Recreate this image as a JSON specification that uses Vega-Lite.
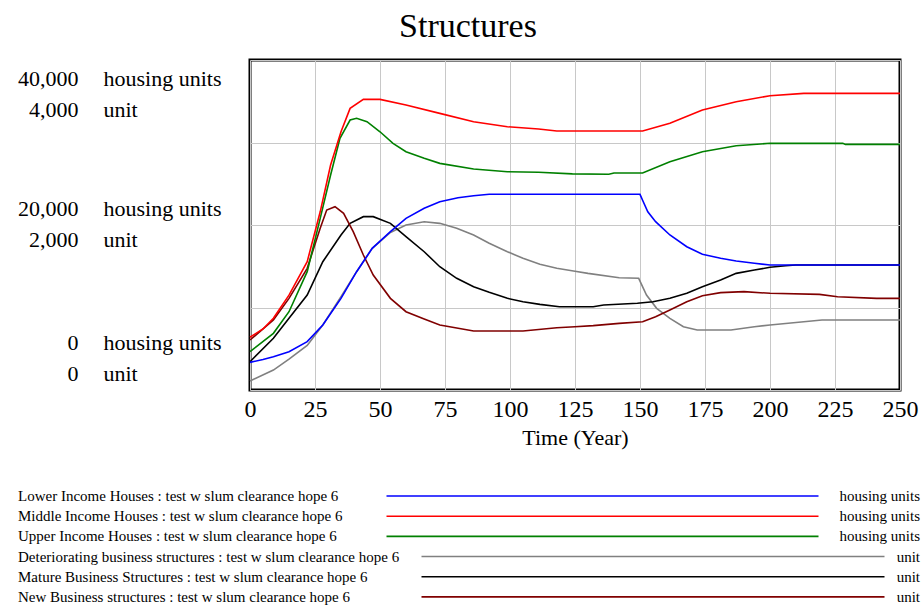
{
  "$schema": "https://vega.github.io/schema/vega-lite/v6.json",
  "width": 650,
  "height": 330,
  "autosize": {"type": "none"},
  "padding": {"left": 250, "top": 60, "right": 23, "bottom": 215},
  "background": "white",
  "title": {"text": "Structures", "font": "Liberation Serif", "fontSize": 34, "fontWeight": "normal", "color": "black", "anchor": "middle", "frame": "group", "dx": -107, "baseline": "alphabetic", "offset": -11},
  "config": {"view": {"stroke": "black", "strokeWidth": 3}, "font": "Liberation Serif"},
  "datasets": {
    "housing": [
      {"series": "Lower Income Houses", "year": 0, "value": 3350},
      {"series": "Lower Income Houses", "year": 5, "value": 3700},
      {"series": "Lower Income Houses", "year": 9, "value": 4040},
      {"series": "Lower Income Houses", "year": 15, "value": 4640},
      {"series": "Lower Income Houses", "year": 22, "value": 5860},
      {"series": "Lower Income Houses", "year": 28, "value": 7880},
      {"series": "Lower Income Houses", "year": 35, "value": 11110},
      {"series": "Lower Income Houses", "year": 41, "value": 14340},
      {"series": "Lower Income Houses", "year": 47, "value": 17170},
      {"series": "Lower Income Houses", "year": 54, "value": 19190},
      {"series": "Lower Income Houses", "year": 60, "value": 20810},
      {"series": "Lower Income Houses", "year": 67, "value": 22020},
      {"series": "Lower Income Houses", "year": 73, "value": 22830},
      {"series": "Lower Income Houses", "year": 80, "value": 23310},
      {"series": "Lower Income Houses", "year": 86, "value": 23550},
      {"series": "Lower Income Houses", "year": 92, "value": 23720},
      {"series": "Lower Income Houses", "year": 150, "value": 23720},
      {"series": "Lower Income Houses", "year": 151, "value": 23000},
      {"series": "Lower Income Houses", "year": 153, "value": 21600},
      {"series": "Lower Income Houses", "year": 156, "value": 20400},
      {"series": "Lower Income Houses", "year": 161.5, "value": 18790},
      {"series": "Lower Income Houses", "year": 168, "value": 17370},
      {"series": "Lower Income Houses", "year": 174, "value": 16450},
      {"series": "Lower Income Houses", "year": 181, "value": 15960},
      {"series": "Lower Income Houses", "year": 187, "value": 15640},
      {"series": "Lower Income Houses", "year": 194, "value": 15360},
      {"series": "Lower Income Houses", "year": 200, "value": 15150},
      {"series": "Lower Income Houses", "year": 250, "value": 15150},
      {"series": "Upper Income Houses", "year": 0, "value": 4640},
      {"series": "Upper Income Houses", "year": 9, "value": 6870},
      {"series": "Upper Income Houses", "year": 15, "value": 9490},
      {"series": "Upper Income Houses", "year": 22, "value": 14340},
      {"series": "Upper Income Houses", "year": 27, "value": 20810},
      {"series": "Upper Income Houses", "year": 31, "value": 26060},
      {"series": "Upper Income Houses", "year": 34.6, "value": 30500},
      {"series": "Upper Income Houses", "year": 38.5, "value": 32720},
      {"series": "Upper Income Houses", "year": 41, "value": 32930},
      {"series": "Upper Income Houses", "year": 45, "value": 32520},
      {"series": "Upper Income Houses", "year": 50, "value": 31300},
      {"series": "Upper Income Houses", "year": 55, "value": 29900},
      {"series": "Upper Income Houses", "year": 60, "value": 28880},
      {"series": "Upper Income Houses", "year": 67, "value": 28080},
      {"series": "Upper Income Houses", "year": 73, "value": 27470},
      {"series": "Upper Income Houses", "year": 86, "value": 26790},
      {"series": "Upper Income Houses", "year": 99, "value": 26460},
      {"series": "Upper Income Houses", "year": 111, "value": 26400},
      {"series": "Upper Income Houses", "year": 124, "value": 26200},
      {"series": "Upper Income Houses", "year": 138, "value": 26150},
      {"series": "Upper Income Houses", "year": 140, "value": 26300},
      {"series": "Upper Income Houses", "year": 151, "value": 26300},
      {"series": "Upper Income Houses", "year": 161.5, "value": 27680},
      {"series": "Upper Income Houses", "year": 174, "value": 28880},
      {"series": "Upper Income Houses", "year": 187, "value": 29610},
      {"series": "Upper Income Houses", "year": 200, "value": 29900},
      {"series": "Upper Income Houses", "year": 228, "value": 29900},
      {"series": "Upper Income Houses", "year": 229, "value": 29770},
      {"series": "Upper Income Houses", "year": 250, "value": 29770},
      {"series": "Middle Income Houses", "year": 0, "value": 6400},
      {"series": "Middle Income Houses", "year": 5, "value": 7400},
      {"series": "Middle Income Houses", "year": 9, "value": 8690},
      {"series": "Middle Income Houses", "year": 15, "value": 11500},
      {"series": "Middle Income Houses", "year": 22, "value": 15550},
      {"series": "Middle Income Houses", "year": 27, "value": 21600},
      {"series": "Middle Income Houses", "year": 31, "value": 27270},
      {"series": "Middle Income Houses", "year": 35, "value": 31300},
      {"series": "Middle Income Houses", "year": 38.5, "value": 34140},
      {"series": "Middle Income Houses", "year": 43.6, "value": 35230},
      {"series": "Middle Income Houses", "year": 50, "value": 35230},
      {"series": "Middle Income Houses", "year": 60, "value": 34540},
      {"series": "Middle Income Houses", "year": 73, "value": 33530},
      {"series": "Middle Income Houses", "year": 86, "value": 32520},
      {"series": "Middle Income Houses", "year": 99, "value": 31910},
      {"series": "Middle Income Houses", "year": 111, "value": 31630},
      {"series": "Middle Income Houses", "year": 118, "value": 31390},
      {"series": "Middle Income Houses", "year": 151, "value": 31390},
      {"series": "Middle Income Houses", "year": 161.5, "value": 32320},
      {"series": "Middle Income Houses", "year": 174, "value": 33940},
      {"series": "Middle Income Houses", "year": 187, "value": 34950},
      {"series": "Middle Income Houses", "year": 200, "value": 35670},
      {"series": "Middle Income Houses", "year": 213, "value": 35960},
      {"series": "Middle Income Houses", "year": 250, "value": 35960}
    ],
    "business": [
      {"series": "Deteriorating business structures", "year": 0, "value": 109},
      {"series": "Deteriorating business structures", "year": 9, "value": 242},
      {"series": "Deteriorating business structures", "year": 15, "value": 375},
      {"series": "Deteriorating business structures", "year": 22, "value": 540},
      {"series": "Deteriorating business structures", "year": 28, "value": 788},
      {"series": "Deteriorating business structures", "year": 35, "value": 1130},
      {"series": "Deteriorating business structures", "year": 41, "value": 1434},
      {"series": "Deteriorating business structures", "year": 47, "value": 1717},
      {"series": "Deteriorating business structures", "year": 54, "value": 1910},
      {"series": "Deteriorating business structures", "year": 60, "value": 2000},
      {"series": "Deteriorating business structures", "year": 67, "value": 2040},
      {"series": "Deteriorating business structures", "year": 73, "value": 2020},
      {"series": "Deteriorating business structures", "year": 79.5, "value": 1960},
      {"series": "Deteriorating business structures", "year": 86, "value": 1879},
      {"series": "Deteriorating business structures", "year": 92, "value": 1778},
      {"series": "Deteriorating business structures", "year": 99, "value": 1676},
      {"series": "Deteriorating business structures", "year": 105, "value": 1596},
      {"series": "Deteriorating business structures", "year": 111.5, "value": 1523},
      {"series": "Deteriorating business structures", "year": 118, "value": 1475},
      {"series": "Deteriorating business structures", "year": 125, "value": 1440},
      {"series": "Deteriorating business structures", "year": 130, "value": 1414},
      {"series": "Deteriorating business structures", "year": 142, "value": 1361},
      {"series": "Deteriorating business structures", "year": 149.5, "value": 1354},
      {"series": "Deteriorating business structures", "year": 152.5, "value": 1151},
      {"series": "Deteriorating business structures", "year": 156.4, "value": 990},
      {"series": "Deteriorating business structures", "year": 161.5, "value": 869},
      {"series": "Deteriorating business structures", "year": 166.7, "value": 767},
      {"series": "Deteriorating business structures", "year": 172, "value": 727},
      {"series": "Deteriorating business structures", "year": 185, "value": 727},
      {"series": "Deteriorating business structures", "year": 194, "value": 767},
      {"series": "Deteriorating business structures", "year": 200, "value": 788},
      {"series": "Deteriorating business structures", "year": 213, "value": 828},
      {"series": "Deteriorating business structures", "year": 220, "value": 848},
      {"series": "Deteriorating business structures", "year": 250, "value": 848},
      {"series": "Mature Business Structures", "year": 0, "value": 343},
      {"series": "Mature Business Structures", "year": 9, "value": 627},
      {"series": "Mature Business Structures", "year": 15, "value": 869},
      {"series": "Mature Business Structures", "year": 22, "value": 1151},
      {"series": "Mature Business Structures", "year": 28, "value": 1555},
      {"series": "Mature Business Structures", "year": 35, "value": 1879},
      {"series": "Mature Business Structures", "year": 38.5, "value": 2020},
      {"series": "Mature Business Structures", "year": 43.6, "value": 2101},
      {"series": "Mature Business Structures", "year": 47.4, "value": 2101},
      {"series": "Mature Business Structures", "year": 54, "value": 2020},
      {"series": "Mature Business Structures", "year": 60, "value": 1858},
      {"series": "Mature Business Structures", "year": 67, "value": 1676},
      {"series": "Mature Business Structures", "year": 73, "value": 1494},
      {"series": "Mature Business Structures", "year": 79.5, "value": 1354},
      {"series": "Mature Business Structures", "year": 86, "value": 1252},
      {"series": "Mature Business Structures", "year": 92, "value": 1184},
      {"series": "Mature Business Structures", "year": 99, "value": 1111},
      {"series": "Mature Business Structures", "year": 105, "value": 1070},
      {"series": "Mature Business Structures", "year": 111.5, "value": 1038},
      {"series": "Mature Business Structures", "year": 119, "value": 1010},
      {"series": "Mature Business Structures", "year": 132, "value": 1010},
      {"series": "Mature Business Structures", "year": 136, "value": 1030},
      {"series": "Mature Business Structures", "year": 149, "value": 1051},
      {"series": "Mature Business Structures", "year": 155, "value": 1070},
      {"series": "Mature Business Structures", "year": 161.5, "value": 1111},
      {"series": "Mature Business Structures", "year": 168, "value": 1172},
      {"series": "Mature Business Structures", "year": 174, "value": 1252},
      {"series": "Mature Business Structures", "year": 181, "value": 1333},
      {"series": "Mature Business Structures", "year": 187, "value": 1414},
      {"series": "Mature Business Structures", "year": 194, "value": 1454},
      {"series": "Mature Business Structures", "year": 200, "value": 1487},
      {"series": "Mature Business Structures", "year": 206, "value": 1507},
      {"series": "Mature Business Structures", "year": 210, "value": 1515},
      {"series": "Mature Business Structures", "year": 250, "value": 1515},
      {"series": "New Business structures", "year": 0, "value": 606},
      {"series": "New Business structures", "year": 9, "value": 848},
      {"series": "New Business structures", "year": 15, "value": 1111},
      {"series": "New Business structures", "year": 22, "value": 1475},
      {"series": "New Business structures", "year": 27, "value": 1960},
      {"series": "New Business structures", "year": 29.5, "value": 2182},
      {"series": "New Business structures", "year": 32.7, "value": 2222},
      {"series": "New Business structures", "year": 36, "value": 2141},
      {"series": "New Business structures", "year": 39.7, "value": 1919},
      {"series": "New Business structures", "year": 43.6, "value": 1636},
      {"series": "New Business structures", "year": 47.4, "value": 1394},
      {"series": "New Business structures", "year": 54, "value": 1111},
      {"series": "New Business structures", "year": 60, "value": 949},
      {"series": "New Business structures", "year": 67, "value": 861},
      {"series": "New Business structures", "year": 73, "value": 788},
      {"series": "New Business structures", "year": 86, "value": 715},
      {"series": "New Business structures", "year": 105, "value": 715},
      {"series": "New Business structures", "year": 118, "value": 755},
      {"series": "New Business structures", "year": 125, "value": 767},
      {"series": "New Business structures", "year": 132, "value": 780},
      {"series": "New Business structures", "year": 142, "value": 808},
      {"series": "New Business structures", "year": 151, "value": 828},
      {"series": "New Business structures", "year": 156, "value": 889},
      {"series": "New Business structures", "year": 161.5, "value": 970},
      {"series": "New Business structures", "year": 168, "value": 1070},
      {"series": "New Business structures", "year": 174, "value": 1143},
      {"series": "New Business structures", "year": 181, "value": 1180},
      {"series": "New Business structures", "year": 190, "value": 1192},
      {"series": "New Business structures", "year": 200, "value": 1172},
      {"series": "New Business structures", "year": 219, "value": 1159},
      {"series": "New Business structures", "year": 226, "value": 1131},
      {"series": "New Business structures", "year": 241, "value": 1111},
      {"series": "New Business structures", "year": 250, "value": 1111}
    ],
    "units": [
      {"series": "Lower Income Houses", "unit": "housing units"},
      {"series": "Middle Income Houses", "unit": "housing units"},
      {"series": "Upper Income Houses", "unit": "housing units"},
      {"series": "Deteriorating business structures", "unit": "unit"},
      {"series": "Mature Business Structures", "unit": "unit"},
      {"series": "New Business structures", "unit": "unit"}
    ]
  },
  "layer": [
    {
      "data": {"name": "business"},
      "mark": {"type": "line", "strokeWidth": 1.6, "interpolate": "linear"},
      "encoding": {
        "x": {"field": "year", "type": "quantitative", "scale": {"domain": [0, 250], "nice": false},
          "axis": {"values": [0, 25, 50, 75, 100, 125, 150, 175, 200, 225, 250], "title": "Time (Year)", "grid": true, "gridColor": "#c8c8c8", "gridWidth": 1, "domain": false, "ticks": false, "tickSize": 0, "labelFont": "Liberation Serif", "labelFontSize": 24, "labelColor": "black", "labelPadding": 7, "labelFlush": false, "labelOverlap": false, "titleFont": "Liberation Serif", "titleFontSize": 22, "titleFontWeight": "normal", "titleColor": "black", "titlePadding": 6}},
        "y": {"field": "value", "type": "quantitative", "scale": {"domain": [0, 4000], "nice": false},
          "axis": {"orient": "left", "values": [0, 2000, 4000], "title": null, "grid": false, "domain": false, "ticks": false, "tickSize": 0, "labelFont": "Liberation Serif", "labelFontSize": 22, "labelColor": "black", "labelAlign": "left", "labelBaseline": "top", "labelPadding": 147, "labelLineHeight": 31, "labelOverlap": false, "labelFlush": false, "labelExpr": "['housing units', 'unit']",
            "labelOffset": {"condition": [{"test": "datum.value == 4000", "value": 8.5}, {"test": "datum.value == 2000", "value": -26.5}], "value": -58}}},
        "stroke": {"field": "series", "type": "nominal",
          "scale": {"domain": ["Deteriorating business structures", "Mature Business Structures", "New Business structures"], "range": ["#808080", "#000000", "#800000"]},
          "legend": {"orient": "none", "legendX": -232, "legendY": 489, "title": null, "padding": 0, "direction": "vertical", "rowPadding": 4.2, "labelFont": "Liberation Serif", "labelFontSize": 15, "labelColor": "black", "labelLimit": 0, "labelOffset": -411, "symbolType": "M 0 0 H 92.6", "symbolSize": 100, "symbolOffset": 396, "symbolStrokeWidth": 1.6,
            "labelExpr": "datum.label + ' : test w slum clearance hope 6'"}}
      }
    },
    {
      "data": {"name": "housing"},
      "mark": {"type": "line", "strokeWidth": 1.6, "interpolate": "linear"},
      "encoding": {
        "x": {"field": "year", "type": "quantitative", "scale": {"domain": [0, 250], "nice": false},
          "axis": {"values": [0, 25, 50, 75, 100, 125, 150, 175, 200, 225, 250], "title": "Time (Year)", "grid": true, "gridColor": "#c8c8c8", "gridWidth": 1, "domain": false, "ticks": false, "tickSize": 0, "labelFont": "Liberation Serif", "labelFontSize": 24, "labelColor": "black", "labelPadding": 7, "labelFlush": false, "labelOverlap": false, "titleFont": "Liberation Serif", "titleFontSize": 22, "titleFontWeight": "normal", "titleColor": "black", "titlePadding": 6}},
        "y": {"field": "value", "type": "quantitative", "scale": {"domain": [0, 40000], "nice": false},
          "axis": {"orient": "left", "values": [0, 10000, 20000, 30000, 40000], "title": null, "grid": true, "gridColor": "#c8c8c8", "gridWidth": 1, "domain": false, "ticks": false, "tickSize": 0, "labelFont": "Liberation Serif", "labelFontSize": 22, "labelColor": "black", "labelAlign": "right", "labelBaseline": "top", "labelPadding": 172, "labelLineHeight": 31, "labelOverlap": false, "labelFlush": false,
            "labelExpr": "datum.value % 20000 == 0 ? [format(datum.value, ','), format(datum.value / 10, ',')] : ''",
            "labelOffset": {"condition": [{"test": "datum.value == 40000", "value": 8.5}, {"test": "datum.value == 20000", "value": -26.5}], "value": -58}}},
        "stroke": {"field": "series", "type": "nominal",
          "scale": {"domain": ["Lower Income Houses", "Middle Income Houses", "Upper Income Houses"], "range": ["#0000ff", "#ff0000", "#008000"]},
          "legend": {"orient": "none", "legendX": -232, "legendY": 428.5, "title": null, "padding": 0, "direction": "vertical", "rowPadding": 4.2, "labelFont": "Liberation Serif", "labelFontSize": 15, "labelColor": "black", "labelLimit": 0, "labelOffset": -376, "symbolType": "M 0 0 H 86.4", "symbolSize": 100, "symbolOffset": 361, "symbolStrokeWidth": 1.6,
            "labelExpr": "datum.label + ' : test w slum clearance hope 6'"}}
      }
    },
    {
      "data": {"name": "units"},
      "mark": {"type": "point", "opacity": 0},
      "encoding": {
        "stroke": {"field": "series", "type": "nominal",
          "scale": {"domain": ["Lower Income Houses", "Middle Income Houses", "Upper Income Houses", "Deteriorating business structures", "Mature Business Structures", "New Business structures"], "range": ["#0000ff", "#ff0000", "#008000", "#808080", "#000000", "#800000"]},
          "legend": {"orient": "none", "legendX": 670, "legendY": 428.5, "title": null, "padding": 0, "direction": "vertical", "rowPadding": 4.2, "labelFont": "Liberation Serif", "labelFontSize": 15, "labelColor": "black", "labelLimit": 0, "labelAlign": "right", "labelOffset": -15, "symbolSize": 100, "symbolOpacity": 0, "symbolStrokeWidth": 0,
            "labelExpr": "indexof(datum.label, 'Income') >= 0 ? 'housing units' : 'unit'"}}
      }
    }
  ],
  "resolve": {"scale": {"y": "independent", "stroke": "independent"}, "legend": {"stroke": "independent"}}
}
